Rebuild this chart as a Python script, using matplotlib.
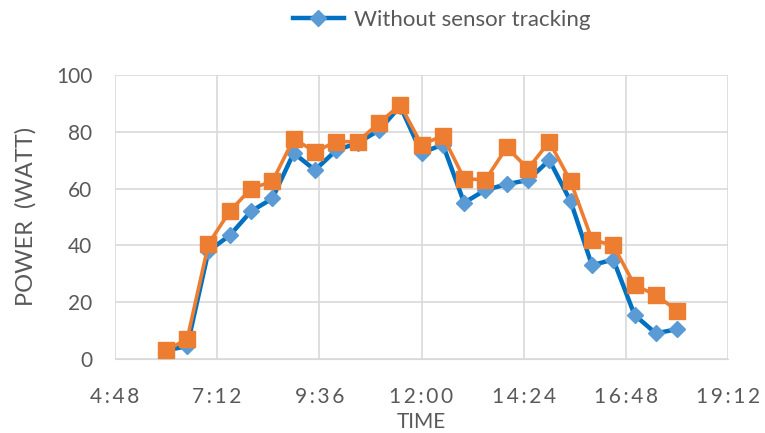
import matplotlib
matplotlib.use('Agg')
import matplotlib.pyplot as plt
from matplotlib.ticker import FuncFormatter

plt.rcParams['font.family'] = ['Lato', 'DejaVu Sans']

# 每半小时一个测量点
times = ['6:00', '6:30', '7:00', '7:30', '8:00', '8:30', '9:00', '9:30', '10:00',
         '10:30', '11:00', '11:30', '12:00', '12:30', '13:00', '13:30', '14:00',
         '14:30', '15:00', '15:30', '16:00', '16:30', '17:00', '17:30', '18:00']
without_tracking = [3, 4.5, 38, 43.5, 52, 56.5, 72.5, 66.5, 73.5, 76, 80.5, 89, 72.5,
                    75.5, 55, 59.5, 61.5, 63, 70, 55.5, 33, 35, 15.5, 9, 10.5]
with_tracking = [3, 7, 40.5, 52, 60, 62.5, 77.5, 73, 76.5, 76.5, 83, 89.5, 75.5,
                 78.5, 63.5, 63, 74.5, 67, 76.5, 62.5, 42, 40, 26, 22.5, 17]
x_ticks = [4.8, 7.2, 9.6, 12.0, 14.4, 16.8, 19.2]
y_ticks = [0, 20, 40, 60, 80, 100]


def to_hours(t):
    h, m = t.split(':')
    return int(h) + int(m) / 60.0


def fmt_time(v, pos):
    total = int(round(v * 60))
    s = '{}:{:02d}'.format(total // 60, total % 60)
    # 原图刻度文字字间距较宽
    return '\u2009'.join(s)


x = [to_hours(t) for t in times]
grey = '#595959'

fig = plt.figure(figsize=(7.65, 4.33), dpi=100)
ax = fig.add_axes([0.150, 0.171, 0.802, 0.656])

line1, = ax.plot(x, without_tracking, color='#0070C0', lw=3.2, marker='D',
                 markersize=8.5, markerfacecolor='#5B9BD5', markeredgecolor='#5B9BD5',
                 label='Without sensor tracking', zorder=3)
ax.plot(x, with_tracking, color='#ED7D31', lw=2.6, marker='s',
        markersize=11, markerfacecolor='#ED7D31', markeredgecolor='#ED7D31', zorder=4)

ax.set_xlim(4.8, 19.2)
ax.set_ylim(0, 100)
ax.set_xticks(x_ticks)
ax.set_yticks(y_ticks)
ax.xaxis.set_major_formatter(FuncFormatter(fmt_time))
ax.grid(True, color='#D9D9D9', lw=1.2)
ax.set_axisbelow(True)
for s in ax.spines.values():
    s.set_visible(False)
ax.spines['bottom'].set_visible(True)
ax.spines['bottom'].set_color('#D9D9D9')
ax.tick_params(length=0, colors=grey, labelsize=15)
ax.tick_params(axis='x', pad=20)
ax.tick_params(axis='y', pad=16)

ax.set_xlabel('TIME', color=grey, fontsize=15)
ax.set_ylabel('POWER  (WATT)', color=grey, fontsize=17)
ax.xaxis.set_label_coords(0.5, -0.185)
ax.yaxis.set_label_coords(-0.128, 0.5)

fig.legend(handles=[line1], loc='center', bbox_to_anchor=(0.577, 0.954),
           frameon=False, fontsize=16, labelcolor=grey, handlelength=2.3,
           handletextpad=0.45)

plt.savefig('out.png', dpi=100)
